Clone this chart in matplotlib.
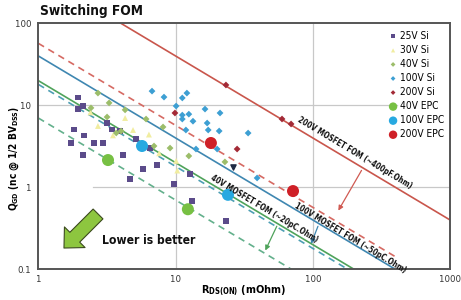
import matplotlib
matplotlib.use("Agg")
import matplotlib.pyplot as plt
import numpy as np
from matplotlib.patches import FancyArrowPatch

plt.rcParams['font.family'] = ['DejaVu Sans']
plt.rcParams['font.stretch'] = 'condensed'
plt.rcParams['mathtext.fontset'] = 'custom'
plt.rcParams['mathtext.bf'] = 'DejaVu Sans:weight=bold:stretch=condensed'
plt.rcParams['mathtext.rm'] = 'DejaVu Sans:weight=bold:stretch=condensed'
plt.rcParams['mathtext.default'] = 'bf'

# ---- data: R_DS(on) [mOhm], Q_GD [nC] ----
si25_r = [1.95, 2.12, 1.82, 2.15, 1.73, 2.55, 2.96, 2.12, 3.17, 3.44, 3.94, 5.15,
          6.52, 4.15, 5.80, 7.33, 4.66, 9.75, 12.8, 13.2, 23.3, 1.95]
si25_q = [9.0, 9.8, 5.1, 4.3, 3.47, 3.47, 3.47, 2.48, 6.1, 5.1, 4.86, 3.88,
          3.01, 2.48, 1.67, 1.87, 1.26, 1.10, 1.45, 0.68, 0.39, 12.4]

si30_r = [2.72, 4.29, 4.9, 6.4, 3.5, 10.1, 10.3, 7.6, 2.4]
si30_q = [5.6, 7.0, 5.0, 4.4, 4.3, 2.1, 1.6, 2.6, 8.2]

si40_r = [2.72, 3.28, 2.42, 4.29, 3.17, 6.10, 8.11, 4.01, 6.97, 9.12, 12.5, 22.9, 3.7]
si40_q = [14.1, 10.7, 9.3, 8.8, 7.2, 6.8, 5.44, 4.86, 3.19, 3.01, 2.41, 2.04, 4.6]

si100_r = [6.74, 8.24, 11.2, 12.1, 10.1, 11.2, 12.5, 11.2, 13.4, 11.9, 16.4, 21.1,
           17.0, 17.3, 20.8, 33.8, 14.1, 20.1, 39.3]
si100_q = [14.9, 12.6, 12.3, 14.1, 9.8, 7.6, 7.8, 6.8, 6.4, 5.0, 9.0, 8.06,
           6.08, 5.0, 4.86, 4.59, 2.93, 2.93, 1.30]

si200_r = [23.3, 9.9, 28.1, 59.7, 69.5]
si200_q = [17.7, 8.06, 2.93, 6.81, 5.92]

epc40_r = [3.22, 12.3]
epc40_q = [2.15, 0.54]
epc100_r = [5.70, 24.1]
epc100_q = [3.19, 0.81]
epc200_r = [18.1, 71.8]
epc200_q = [3.47, 0.90]

# FOM lines (Q * R = const) and where they stop
fom_values = [400, 57, 40, 18, 20, 7]
fom_rmax = [1000, 400, 400, 186, 200, 70]
fom_styles = ['-', '--', '-', '--', '-', '--']
fom_colors = ['#c9564c', '#d66a63', '#3f87b1', '#4e9fb4', '#4fa35b', '#63b08c']

fom_labels = ['200V MOSFET FOM (~400pF.Ohm)', '100V MOSFET FOM (~50pC.Ohm)',
              '40V MOSFET FOM (~20pC.Ohm)']
fom_label_pos = [(76.9, 6.43), (72.6, 0.565), (17.7, 1.24)]

fig = plt.figure(figsize=(4.61, 3.0), dpi=100)
ax = fig.add_axes([0.0831, 0.1023, 0.893, 0.82])
ax.set_xscale('log')
ax.set_yscale('log')
ax.set_xlim(1, 1000)
ax.set_ylim(0.1, 100)

# partial grid lines like the original
ax.axvline(10, color='#c8c8c8', lw=0.9, zorder=0)
ax.axvline(100, color='#c8c8c8', lw=0.9, zorder=0)
ax.axhline(10, xmax=0.871, color='#c8c8c8', lw=0.9, zorder=0)
ax.axhline(1, xmin=0.133, color='#c8c8c8', lw=0.9, zorder=0)

for fom, rmax, ls, c in zip(fom_values, fom_rmax, fom_styles, fom_colors):
    r = np.logspace(0, np.log10(rmax), 50)
    ax.plot(r, fom / r, ls=ls, color=c, lw=1.2, dashes=(4, 3) if ls == '--' else (None, None), zorder=2)

sc = dict(edgecolors='none', zorder=3)
ax.scatter(si25_r, si25_q, marker='s', s=16, color='#5b4b8a', label='25V Si', **sc)
ax.scatter(si30_r, si30_q, marker='^', s=18, color='#f1eda0', label='30V Si', **sc)
ax.scatter(si40_r, si40_q, marker='D', s=12, color='#9cbd6a', label='40V Si', **sc)
ax.scatter(si100_r, si100_q, marker='D', s=12, color='#3d9fd3', label='100V Si', **sc)
ax.scatter(si200_r, si200_q, marker='D', s=12, color='#a32a36', label='200V Si', **sc)
ax.scatter(epc40_r, epc40_q, marker='o', s=75, color='#77c043', label='40V EPC', **sc)
ax.scatter(epc100_r, epc100_q, marker='o', s=75, color='#27a9e1', label='100V EPC', **sc)
ax.scatter(epc200_r, epc200_q, marker='o', s=75, color='#cf2027', label='200V EPC', **sc)
ax.scatter([26.2], [1.77], marker='v', s=14, color='#1f2a44', zorder=3)

# arrows from MOSFET lines down to EPC lines
arrows = [((232, 1.72), (150, 0.486), '#d05a52'),
          ((111, 0.36), (95.6, 0.19), '#3f87b1'),
          ((55.8, 0.36), (44.2, 0.158), '#4fa35b')]
for start, end, c in arrows:
    ax.annotate('', xy=end, xytext=start,
                arrowprops=dict(arrowstyle='-|>', color=c, lw=0.9, mutation_scale=7))

for txt, pos in zip(fom_labels, fom_label_pos):
    ax.text(pos[0], pos[1], txt, rotation=-30.9, rotation_mode='anchor',
            ha='left', va='baseline', fontsize=5.5, fontweight='bold', color='#111111')

# big "lower is better" arrow
big = FancyArrowPatch((100 / 461, 1 - 212 / 300), (62 / 461, 1 - 250 / 300),
                      transform=fig.transFigure,
                      arrowstyle='simple,head_length=11,head_width=21,tail_width=10',
                      mutation_scale=1, fc='#8dc63f', ec='#3b4a1e', lw=0.8)
fig.patches.append(big)
ax.text(102 / 461, 1 - 240 / 300, 'Lower is better', transform=fig.transFigure,
        fontsize=8.7, fontweight='bold', color='#111111', va='center')

for side in ['left', 'bottom', 'top', 'right']:
    ax.spines[side].set_color('#555555')
    ax.spines[side].set_linewidth(1.4)

ax.set_xticks([1, 10, 100, 1000])
ax.set_xticklabels(['1', '10', '100', '1000'])
ax.set_yticks([0.1, 1, 10, 100])
ax.set_yticklabels(['0.1', '1', '10', '100'])
ax.minorticks_off()
ax.tick_params(axis='x', length=0, labelsize=6.8, labelcolor='#333333', pad=4)
ax.tick_params(axis='y', length=0, labelsize=6.8, labelcolor='#333333', pad=5)

ax.set_xlabel(r'R$_{DS(ON)}$ (mOhm)', fontsize=7.8, fontweight='bold', labelpad=0)
ax.set_ylabel(r'Q$_{GD}$ (nc @ 1/2 BV$_{DSS}$)', fontsize=7.2, fontweight='bold', labelpad=1)
ax.yaxis.set_label_coords(-0.042, 0.45)

fig.text(40 / 461, 1 - 11 / 300, 'Switching FOM', fontsize=9.8, fontweight='bold',
         va='center', ha='left', color='#111111')

ax.legend(loc='upper left', bbox_to_anchor=(388 / 461, 1 - 31 / 300),
          bbox_transform=fig.transFigure, frameon=False, fontsize=7.3,
          handletextpad=0.2, labelspacing=0.4, borderaxespad=0, borderpad=0,
          markerscale=0.7, handlelength=1.0, scatterpoints=1)

fig.savefig('out.png', dpi=100)
